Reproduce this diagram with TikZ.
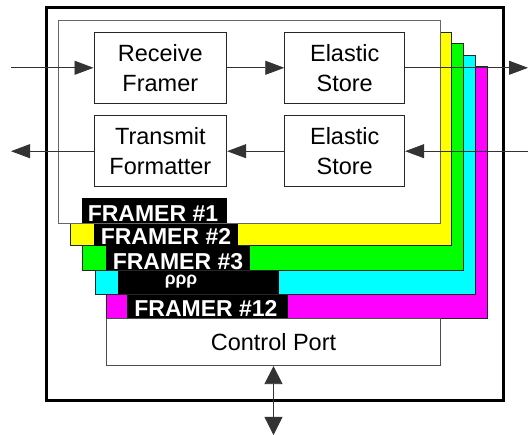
\documentclass[tikz,border=0pt]{standalone}
\usepackage{fontspec}
\setmainfont{Liberation Sans}
\usetikzlibrary{arrows.meta}
\definecolor{cY}{RGB}{255,255,0}
\definecolor{cG}{RGB}{0,255,0}
\definecolor{cC}{RGB}{0,255,255}
\definecolor{cM}{RGB}{255,0,255}
\begin{document}
\begin{tikzpicture}[x=1pt,y=-1pt,
  blk/.style={draw=black!85, line width=0.9pt, fill=white, inner sep=0pt,
    font=\fontsize{23.5}{30}\selectfont, align=center},
  layer/.style={draw=black!85, line width=0.8pt},
  lbl/.style={text=white, font=\fontsize{23}{23}\selectfont\bfseries, anchor=base, inner sep=0pt},
  conn/.style={draw=black!80, line width=0.8pt},
  arrtip/.style={-{Triangle[length=19pt,width=14pt]}},
  arrboth/.style={{Triangle[length=18pt,width=18pt]}-{Triangle[length=18pt,width=18pt]}},
]
\useasboundingbox (0,0) rectangle (528,435);
% outer box
\draw[line width=3pt] (46,8) rectangle (503,401);
% layers, back to front
\filldraw[layer, fill=cM] (106.3,66.7) rectangle (487.3,318.3);
\fill[black] (127,294) rectangle (288,318.3);
\node[lbl] (f12) at (206,317) {FRAMER \#12};
\filldraw[layer, fill=cC] (95,55.7) rectangle (475.7,294);
\fill[black] (118,270.3) rectangle (279,294);
\node[text=white, font=\fontsize{17.5}{17.5}\selectfont\bfseries, inner sep=0pt, anchor=base] (fdots) at (181,285) {ρρρ};
\filldraw[layer, fill=cG] (82.7,43.3) rectangle (463.3,270.3);
\fill[black] (106,245.7) rectangle (250,270.3);
\node[lbl] (f3) at (178,269.3) {FRAMER \#3};
\filldraw[layer, fill=cY] (70.7,32.7) rectangle (451.7,245.7);
\fill[black] (94.3,223) rectangle (238,245.7);
\node[lbl] (f2) at (166,244.7) {FRAMER \#2};
\filldraw[draw=black!60, line width=0.8pt, fill=white] (58.7,20) rectangle (440,223);
\fill[black] (82.3,198.3) rectangle (226.7,223);
\node[lbl] (f1) at (153,222) {FRAMER \#1};
% control port
\node[draw=black!70, line width=0.8pt, fill=white, minimum width=334.4pt, minimum height=47.4pt,
  inner sep=0pt, font=\fontsize{23.5}{30}\selectfont] (cp) at (273.5,342) {Control Port};
% blocks
\node[blk, minimum width=132.7pt, minimum height=71pt] (rf) at (160.35,67.8) {Receive\\Framer};
\node[blk, minimum width=120pt, minimum height=71pt] (es1) at (344.7,67.8) {Elastic\\Store};
\node[blk, minimum width=132.7pt, minimum height=71pt] (tf) at (160.35,151.2) {Transmit\\Formatter};
\node[blk, minimum width=120pt, minimum height=71pt] (es2) at (344.7,151.2) {Elastic\\Store};
% free ends
\coordinate (inL) at (11,67.8);
\coordinate (outR) at (528,67.8);
\coordinate (inR) at (528,151.2);
\coordinate (outL) at (11,151.2);
\coordinate (cpB) at (273.5,435);
% connectors
\draw[conn,arrtip] (inL) -- (rf.west);
\draw[conn,arrtip] (rf.east) -- (es1.west);
\draw[conn,arrtip] (es1.east) -- (outR);
\draw[conn,arrtip] (inR) -- (es2.east);
\draw[conn,arrtip] (es2.west) -- (tf.east);
\draw[conn,arrtip] (tf.west) -- (outL);
\draw[conn,arrboth] (cp.south) -- (cpB);
\end{tikzpicture}
\end{document}
